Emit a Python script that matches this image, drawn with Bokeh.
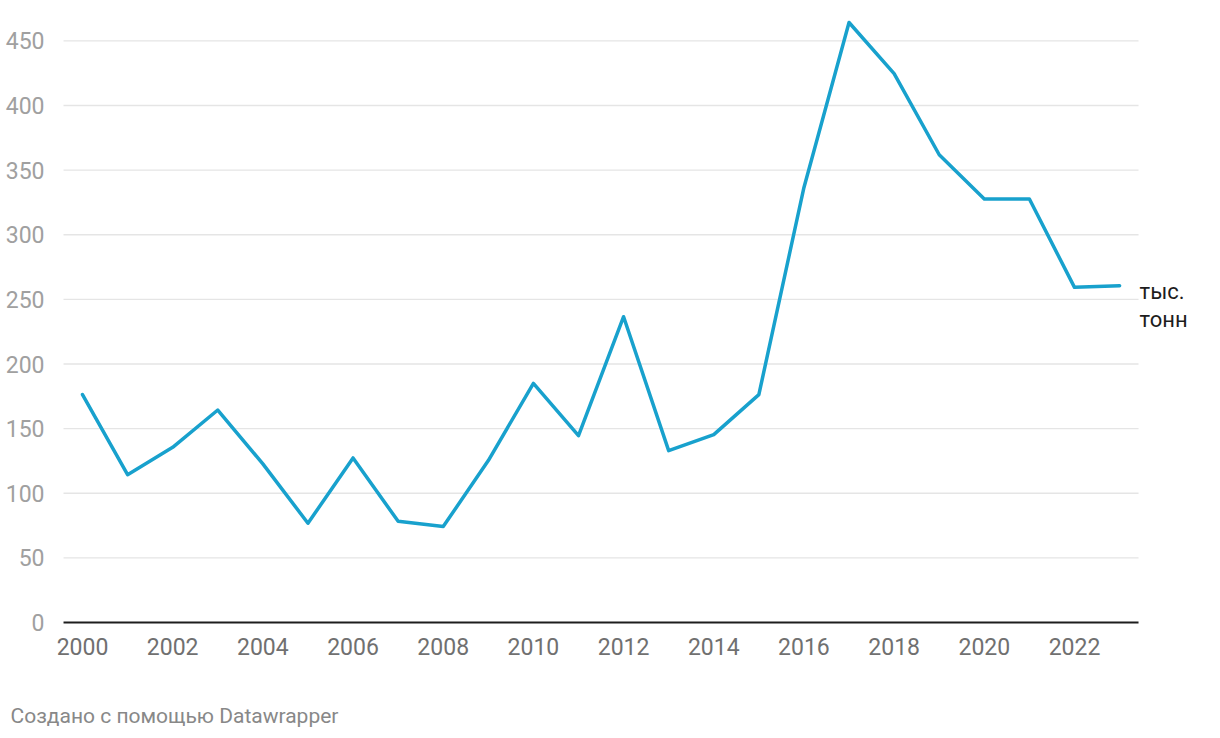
from bokeh.plotting import figure
from bokeh.models import Range1d, FixedTicker, Label, ColumnDataSource, LinearAxis
from bokeh.embed import file_html
from bokeh.resources import INLINE

years = list(range(2000, 2024))
values = [176.3, 114.4, 135.5, 164.4, 122.7, 76.8, 127.3, 78.3, 74.2, 125.3,
          185.0, 144.6, 236.6, 133.0, 145.4, 176.3, 336.6, 464.2, 424.7, 361.9,
          327.6, 327.6, 259.3, 260.6]
y_ticks = [0, 50, 100, 150, 200, 250, 300, 350, 400, 450]
x_ticks = list(range(2000, 2023, 2))
unit_lines = ["тыс.", "тонн"]
footer = "Создано с помощью Datawrapper"

FONT = "Roboto"
X0, X1 = 1999.579, 2023.42   # horizontal extent of the chart body

# the plot frame covers the whole canvas; axes are pinned inside it
p = figure(width=1220, height=738, output_backend="svg", toolbar_location=None,
           x_range=Range1d(1998.1814, 2025.238), y_range=Range1d(-89.75, 481.24),
           x_axis_location=None, y_axis_location=None,
           min_border_left=0, min_border_right=0, min_border_top=0,
           min_border_bottom=0)
p.outline_line_color = None
p.background_fill_color = "white"
p.border_fill_color = "white"
p.xgrid.grid_line_color = None
p.ygrid.grid_line_color = None

# horizontal grid lines
grid_vals = y_ticks[1:]
p.segment(x0=[X0] * len(grid_vals), x1=[X1] * len(grid_vals), y0=grid_vals, y1=grid_vals,
          line_color="#e5e5e5", line_width=1.3)

# y axis
yax = LinearAxis(fixed_location=X0, ticker=FixedTicker(ticks=y_ticks))
yax.axis_line_color = None
yax.major_tick_line_color = None
yax.minor_tick_line_color = None
yax.major_label_text_font = FONT
yax.major_label_text_font_size = "23px"
yax.major_label_text_color = "#a0a0a0"
yax.major_label_standoff = 13
p.add_layout(yax, "left")

# x axis
xax = LinearAxis(fixed_location=0, ticker=FixedTicker(ticks=x_ticks))
xax.axis_line_color = None
xax.major_tick_line_color = None
xax.minor_tick_line_color = None
xax.major_label_text_font = FONT
xax.major_label_text_font_size = "23px"
xax.major_label_text_color = "#707070"
xax.major_label_standoff = 10
p.add_layout(xax, "below")

# baseline at zero
p.segment(x0=[X0], x1=[X1], y0=[0], y1=[0], line_color="#1d1d1d", line_width=2)

src = ColumnDataSource(dict(x=years, y=values))
p.line("x", "y", source=src, line_color="#18a1cd", line_width=3.5,
       line_join="round", line_cap="round")

# unit label at line end
for i, t in enumerate(unit_lines):
    p.add_layout(Label(x=years[-1], y=values[-1], x_offset=20, y_offset=-6 - 28 * i,
                       text=t, text_font=FONT, text_font_size="22px",
                       text_color="#1d1d1d", text_baseline="alphabetic",
                       text_align="left"))

p.add_layout(Label(x=10, y=23, x_units="screen", y_units="screen", text=footer,
                   text_font=FONT, text_font_size="21px", text_color="#888888",
                   text_baseline="alphabetic", text_align="left"))

open("out.html", "w").write(file_html(p, INLINE))
